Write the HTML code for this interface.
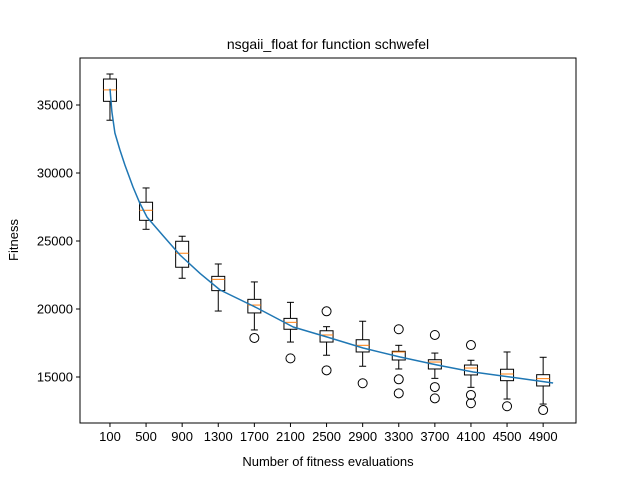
<!DOCTYPE html>
<html><head><meta charset="utf-8"><style>
body{margin:0;background:#fff;}
svg text{font-family:"Liberation Sans","DejaVu Sans",sans-serif;fill:#000;}
</style></head><body>
<svg id="chart" width="640" height="480" xmlns="http://www.w3.org/2000/svg">
<rect x="0" y="0" width="640" height="480" fill="#fff"/>
<g id="plot"></g>
<rect x="80" y="58" width="496" height="365" fill="none" stroke="#000" stroke-width="1"/>
<text x="328" y="49" font-size="14" text-anchor="middle">nsgaii_float for function schwefel</text>
<text x="328" y="466" font-size="13" text-anchor="middle">Number of fitness evaluations</text>
<text x="18" y="240" font-size="13" text-anchor="middle" transform="rotate(-90 18 240)">Fitness</text>
</svg>
<script>
const categories = [100,500,900,1300,1700,2100,2500,2900,3300,3700,4100,4500,4900];
const whiskerHigh = [37280,28900,25350,23310,21990,20490,18700,19100,17330,16760,16230,16840,16450];
const q3 = [36910,27850,24980,22400,20710,19310,18400,17740,16890,16270,15880,15570,15170];
const medians = [36110,27260,24100,22180,20290,19020,18090,17330,16840,16100,15660,15220,14880];
const q1 = [35270,26520,23070,21350,19710,18510,17570,16840,16250,15590,15150,14730,14340];
const whiskerLow = [33880,25860,22260,19850,18460,17570,16600,15790,15590,14900,14240,13380,13010];
const outliers = [[],[],[],[],[17870],[16370],[19830,15490],[14540],[18510,14830,13800],[18090,14260,13430],[17350,13680,13070],[12850],[12570]];
const lineEvals = [100,122,155,210,266,355,430,510,700,876,1100,1320,1730,2130,2505,2905,3315,3725,4125,4535,5010];
const lineValues = [36190,34490,32940,31700,30590,28970,27800,26760,25300,23970,22600,21400,20070,18680,17940,17130,16470,15880,15370,15000,14560];
const yTicks = [15000,20000,25000,30000,35000];

const NS="http://www.w3.org/2000/svg";
const g=document.getElementById('plot');
const X0=80,X1=576,Y0=58,Y1=423;
const pMin=0.17,pMax=13.91;
function xPos(i){return X0+(i+1-pMin)/(pMax-pMin)*(X1-X0);}
function xEval(e){return xPos((e-100)/400);}
function yPos(v){return 377-(v-15000)*0.0136;}
function el(tag,attrs,parent){const e=document.createElementNS(NS,tag);for(const k in attrs)e.setAttribute(k,attrs[k]);(parent||g).appendChild(e);return e;}

yTicks.forEach(v=>{
  const y=yPos(v);
  const t=el('line',{x1:X0-4,x2:X0,y1:y,y2:y,stroke:'#000'});
  
  
  const tx=el('text',{x:X0-7,y:y+4.5,'font-size':13,'text-anchor':'end'});
  tx.textContent=v;
  
  
});
categories.forEach((c,i)=>{
  const x=xPos(i);
  const t=el('line',{x1:x,x2:x,y1:Y1,y2:Y1+4,stroke:'#000'});
  
  
  const tx=el('text',{x:x,y:Y1+18,'font-size':13,'text-anchor':'middle'});
  tx.textContent=c;
  
  
});
categories.forEach((c,i)=>{
  const x=xPos(i),hw=6.5,cw=3.5;
  const bg=el('g',{});
  
  
  el('line',{x1:x,x2:x,y1:yPos(q3[i]),y2:yPos(whiskerHigh[i]),stroke:'#000'},bg);
  el('line',{x1:x,x2:x,y1:yPos(q1[i]),y2:yPos(whiskerLow[i]),stroke:'#000'},bg);
  el('line',{x1:x-cw,x2:x+cw,y1:yPos(whiskerHigh[i]),y2:yPos(whiskerHigh[i]),stroke:'#000'},bg);
  el('line',{x1:x-cw,x2:x+cw,y1:yPos(whiskerLow[i]),y2:yPos(whiskerLow[i]),stroke:'#000'},bg);
  el('rect',{x:x-hw,y:yPos(q3[i]),width:2*hw,height:yPos(q1[i])-yPos(q3[i]),fill:'none',stroke:'#000'},bg);
  el('line',{x1:x-hw,x2:x+hw,y1:yPos(medians[i]),y2:yPos(medians[i]),stroke:'#ff7f0e'},bg);
  outliers[i].forEach(v=>{
    const o=el('circle',{cx:x,cy:yPos(v),r:4.5,fill:'none',stroke:'#000'},bg);
    
    
  });
});
const pts=lineEvals.map((e,i)=>xEval(e).toFixed(1)+','+yPos(lineValues[i]).toFixed(1)).join(' ');
const ln=el('polyline',{points:pts,fill:'none',stroke:'#1f77b4','stroke-width':1.5,'stroke-linejoin':'round'});


</script>
</body></html>
